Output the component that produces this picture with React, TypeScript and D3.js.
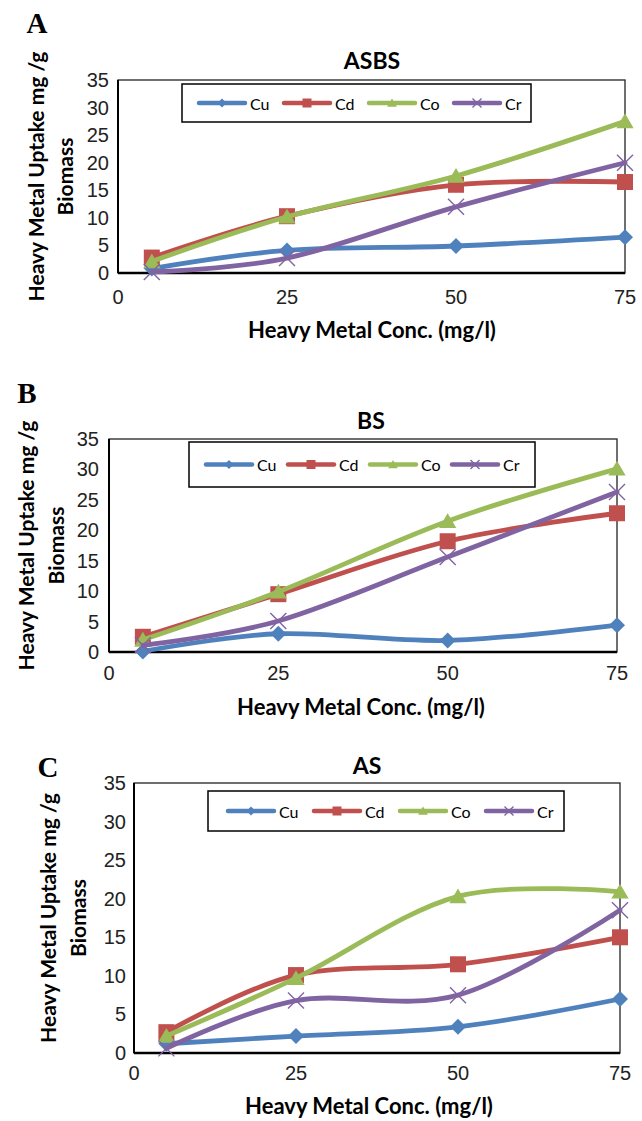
import * as d3 from "d3";

// x values (mg/l) and metals
const concentrations = [5, 25, 50, 75];
const metals = ["Cu", "Cd", "Co", "Cr"];
const metalColors = ["#4f81bd", "#c0504d", "#9bbb59", "#8064a2"];
const metalMarkers = ["diamond", "square", "triangle", "cross"];
const yTicks = [0, 5, 10, 15, 20, 25, 30, 35];
const xTicks = [0, 25, 50, 75];

// panel A - ASBS
const asbsCu = [0.8, 4.1, 4.9, 6.5];
const asbsCd = [2.8, 10.3, 16.0, 16.5];
const asbsCo = [2.1, 10.2, 17.6, 27.5];
const asbsCr = [0.2, 2.7, 12.0, 20.0];

// panel B - BS
const bsCu = [0.1, 3.0, 1.9, 4.4];
const bsCd = [2.5, 9.5, 18.2, 22.8];
const bsCo = [2.0, 9.9, 21.5, 30.1];
const bsCr = [1.1, 5.1, 15.6, 26.3];

// panel C - AS
const asCu = [1.2, 2.2, 3.4, 7.0];
const asCd = [2.7, 10.1, 11.5, 15.0];
const asCo = [2.2, 9.7, 20.3, 20.9];
const asCr = [0.6, 6.8, 7.5, 18.5];

const panels = [
  {
    letter: "A", title: "ASBS", series: [asbsCu, asbsCd, asbsCo, asbsCr],
    left: 118, right: 625, top: 80, bottom: 273,
    letterX: 37, letterY: 23, titleX: 372, titleY: 60,
    yLabelX: 109, xLabelY: 297, xTitleX: 372, xTitleY: 329,
    yTitle1X: 35, yTitle2X: 64,
    legX: 182, legY: 84, legW: 349, legH: 38, legPad: 17, legStep: 85,
  },
  {
    letter: "B", title: "BS", series: [bsCu, bsCd, bsCo, bsCr],
    left: 109, right: 617, top: 439, bottom: 652,
    letterX: 27, letterY: 393, titleX: 371, titleY: 420,
    yLabelX: 99, xLabelY: 673, xTitleX: 361, xTitleY: 706,
    yTitle1X: 25, yTitle2X: 55,
    legX: 189, legY: 442, legW: 346, legH: 45, legPad: 17, legStep: 82,
  },
  {
    letter: "C", title: "AS", series: [asCu, asCd, asCo, asCr],
    left: 134, right: 620, top: 783, bottom: 1053,
    letterX: 48, letterY: 767, titleX: 367, titleY: 765,
    yLabelX: 126, xLabelY: 1073, xTitleX: 369, xTitleY: 1105,
    yTitle1X: 47, yTitle2X: 77,
    legX: 208, legY: 791, legW: 356, legH: 40, legPad: 20, legStep: 86,
  },
];

const boldFont = "Lato, 'Open Sans', sans-serif";
const tickFont = "'Liberation Sans', Arial, sans-serif";

function marker(kind: string, cx: number, cy: number, s: number, color: string, key: string) {
  if (kind === "diamond") {
    return <path key={key} d={`M${cx},${cy - s} L${cx + s},${cy} L${cx},${cy + s} L${cx - s},${cy} Z`} fill={color} />;
  }
  if (kind === "square") {
    return <rect key={key} x={cx - s} y={cy - s} width={2 * s} height={2 * s} fill={color} />;
  }
  if (kind === "triangle") {
    return <path key={key} d={`M${cx},${cy - s} L${cx + s * 1.08},${cy + s * 0.85} L${cx - s * 1.08},${cy + s * 0.85} Z`} fill={color} />;
  }
  return (
    <path key={key} d={`M${cx - s},${cy - s} L${cx + s},${cy + s} M${cx + s},${cy - s} L${cx - s},${cy + s}`}
      stroke={color} strokeWidth={1.4} fill="none" />
  );
}

function Panel({ p }: { p: (typeof panels)[number] }) {
  const x = d3.scaleLinear().domain([0, 75]).range([p.left, p.right]);
  const y = d3.scaleLinear().domain([0, 35]).range([p.bottom, p.top]);
  const line = d3
    .line<number>()
    .x((_, i) => x(concentrations[i]))
    .y(d => y(d))
    .curve(d3.curveCardinal.tension(0));
  const cy = (p.top + p.bottom) / 2;

  return (
    <g>
      <text x={p.letterX} y={p.letterY} textAnchor="middle" dominantBaseline="central"
        fontFamily="'Liberation Serif', 'Times New Roman', serif" fontWeight="bold" fontSize={29}>{p.letter}</text>
      <text x={p.titleX} y={p.titleY} textAnchor="middle" dominantBaseline="central"
        fontFamily={boldFont} fontWeight="bold" fontSize={23}>{p.title}</text>

      <rect x={p.left} y={p.top} width={p.right - p.left} height={p.bottom - p.top}
        fill="none" stroke="#222" strokeWidth={1.3} />
      <line x1={p.left} x2={p.left} y1={p.top} y2={p.bottom} stroke="#000" strokeWidth={2} />
      <line x1={p.left} x2={p.right} y1={p.bottom} y2={p.bottom} stroke="#000" strokeWidth={2.5} />

      {yTicks.map(t => (
        <text key={"y" + t} x={p.yLabelX} y={y(t)} textAnchor="end" dominantBaseline="central"
          fontFamily={tickFont} fontSize={20} fill="#222">{t}</text>
      ))}
      {xTicks.map(t => (
        <text key={"x" + t} x={x(t)} y={p.xLabelY} textAnchor="middle" dominantBaseline="central"
          fontFamily={tickFont} fontSize={20} fill="#222">{t}</text>
      ))}

      <text x={p.xTitleX} y={p.xTitleY} textAnchor="middle" dominantBaseline="central"
        fontFamily={boldFont} fontWeight="bold" fontSize={22}>Heavy Metal Conc. (mg/l)</text>
      <text transform={`translate(${p.yTitle1X},${cy}) rotate(-90)`} textAnchor="middle" dominantBaseline="central"
        fontFamily={boldFont} fontWeight="bold" fontSize={21}>Heavy Metal Uptake mg /g</text>
      <text transform={`translate(${p.yTitle2X},${cy}) rotate(-90)`} textAnchor="middle" dominantBaseline="central"
        fontFamily={boldFont} fontWeight="bold" fontSize={21}>Biomass</text>

      {p.series.map((vals, si) => (
        <g key={metals[si]}>
          <path d={line(vals) ?? ""} fill="none" stroke={metalColors[si]} strokeWidth={4.8}
            strokeLinecap="round" strokeLinejoin="round" />
          {vals.map((v, i) =>
            marker(metalMarkers[si], x(concentrations[i]), y(v), 8, metalColors[si], metals[si] + i)
          )}
        </g>
      ))}

      <rect x={p.legX} y={p.legY} width={p.legW} height={p.legH} fill="#fff" stroke="#000" strokeWidth={1.5} />
      {metals.map((m, i) => {
        const lx = p.legX + p.legPad + i * p.legStep;
        const ly = p.legY + p.legH / 2;
        return (
          <g key={"leg" + m}>
            <line x1={lx} x2={lx + 46} y1={ly} y2={ly} stroke={metalColors[i]} strokeWidth={4.5} strokeLinecap="round" />
            {marker(metalMarkers[i], lx + 23, ly, 4.5, metalColors[i], "lm" + m)}
            <text x={lx + 51} y={ly} dominantBaseline="central" fontFamily={boldFont} fontSize={16}>{m}</text>
          </g>
        );
      })}
    </g>
  );
}

export default function App() {
  return (
    <svg width={642} height={1121} viewBox="0 0 642 1121"
      style={{ position: "absolute", left: 0, top: 0, background: "#fff" }}>
      <rect width={642} height={1121} fill="#fff" />
      {panels.map(p => (
        <Panel key={p.letter} p={p} />
      ))}
    </svg>
  );
}
